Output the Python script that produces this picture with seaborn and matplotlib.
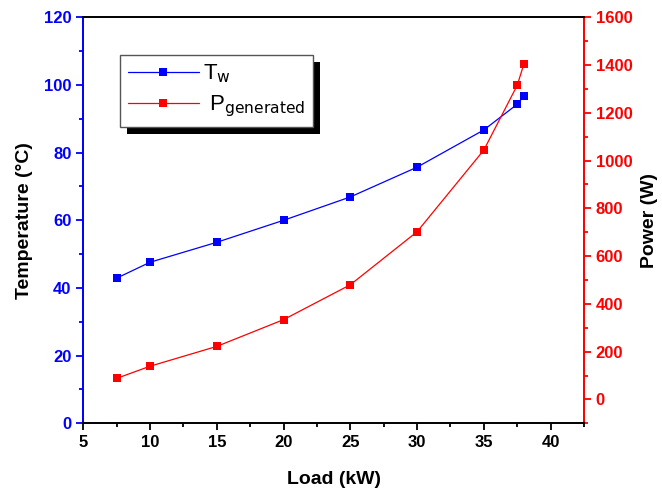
import numpy as np
import pandas as pd
import seaborn as sns
import matplotlib.pyplot as plt
from matplotlib.ticker import MultipleLocator
from matplotlib.patches import Rectangle

# data
load_kw = [7.5, 10, 15, 20, 25, 30, 35, 37.5, 38]
temp_w = [42.9, 47.6, 53.5, 60, 66.9, 75.7, 86.7, 94.3, 96.7]
power_gen = [88, 139, 222, 334, 480, 702, 1044, 1315, 1404]

df = pd.DataFrame({'load': load_kw, 'temp': temp_w, 'power': power_gen})

sns.set_style('ticks')
plt.rcParams['font.family'] = ['Liberation Sans', 'DejaVu Sans']
plt.rcParams['text.color'] = 'black'
plt.rcParams['axes.labelcolor'] = 'black'

fig = plt.figure(figsize=(6.62, 4.93), dpi=100)
ax = fig.add_axes([0.1258, 0.1414, 0.7563, 0.8235])
ax2 = ax.twinx()

sns.lineplot(data=df, x='load', y='temp', ax=ax, color='#0000ff', lw=0.9,
             marker='s', markersize=6, markeredgewidth=0, label=r'T$_{\mathrm{w}}$', legend=False)
sns.lineplot(data=df, x='load', y='power', ax=ax2, color='#ff0000', lw=0.9,
             marker='s', markersize=6, markeredgewidth=0, label=r' P$_{\mathrm{generated}}$', legend=False)

ax.set_xlim(5, 42.5)
ax.set_ylim(0, 120)
ax2.set_ylim(-100, 1600)

ax.xaxis.set_major_locator(MultipleLocator(5))
ax.xaxis.set_minor_locator(MultipleLocator(2.5))
ax.yaxis.set_major_locator(MultipleLocator(20))
ax.yaxis.set_minor_locator(MultipleLocator(10))
ax2.yaxis.set_major_locator(MultipleLocator(200))
ax2.yaxis.set_minor_locator(MultipleLocator(100))

for a in (ax, ax2):
    for s in a.spines.values():
        s.set_visible(True)
        s.set_linewidth(1.3)
ax2.spines['left'].set_color('#0000ff')
ax2.spines['right'].set_color('#ff0000')
ax2.spines['top'].set_color('black')
ax2.spines['bottom'].set_color('black')
ax.spines['left'].set_color('#0000ff')
ax.spines['right'].set_color('#ff0000')

ax.tick_params(axis='x', which='both', direction='out', colors='black', width=1.3)
ax.tick_params(axis='x', which='major', length=5, labelsize=12)
ax.tick_params(axis='x', which='minor', length=3)
ax.tick_params(axis='y', which='both', direction='out', colors='#0000ff', width=1.3)
ax.tick_params(axis='y', which='major', length=5, labelsize=12)
ax.tick_params(axis='y', which='minor', length=3)
ax2.tick_params(axis='y', which='both', direction='out', colors='#ff0000', width=1.3)
ax2.tick_params(axis='y', which='major', length=5, labelsize=12)
ax2.tick_params(axis='y', which='minor', length=3)

for lab in ax.get_xticklabels() + ax.get_yticklabels() + ax2.get_yticklabels():
    lab.set_fontweight('bold')

ax.set_xlabel('Load (kW)', fontsize=14, fontweight='bold', labelpad=15, color='black')
ax.set_ylabel('Temperature (°C)', fontsize=14, fontweight='bold', labelpad=8, color='black')
ax2.set_ylabel('Power (W)', fontsize=14, fontweight='bold', labelpad=6, color='black')

h1, l1 = ax.get_legend_handles_labels()
h2, l2 = ax2.get_legend_handles_labels()
leg = ax2.legend(h1 + h2, l1 + l2, loc='upper left', bbox_to_anchor=(0.073, 0.907),
                 fontsize=16, frameon=True, fancybox=False, shadow=False,
                 edgecolor='#555555', handlelength=3.2, handletextpad=0.2,
                 borderpad=0.35, labelspacing=0.35, borderaxespad=0)
leg.get_frame().set_linewidth(1.0)
leg.get_frame().set_alpha(1)
for t in leg.get_texts():
    t.set_color('black')

# hard drop shadow behind the legend box
fig.canvas.draw()
bb = leg.get_window_extent()
ax2.add_patch(Rectangle((bb.x0 + 7, bb.y0 - 7), bb.width, bb.height, transform=None,
                        facecolor='black', edgecolor='none', zorder=4.9, clip_on=False))

fig.savefig('out.png', dpi=100)
